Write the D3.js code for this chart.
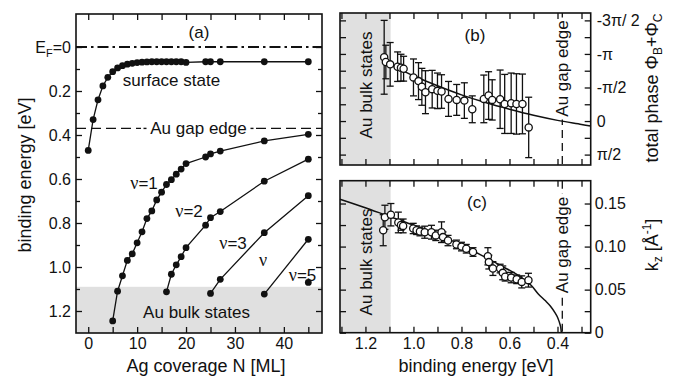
<!DOCTYPE html>
<html>
<head>
<meta charset="utf-8">
<script src="https://cdn.jsdelivr.net/npm/d3@7"></script>
<style>
  body { margin: 0; background: #fff; }
  svg { display: block; font-family: "Liberation Sans", Arial, Helvetica, sans-serif; }
</style>
</head>
<body>
<svg id="chart" width="679" height="377"></svg>
<script>
// ---- panel (a): binding energy vs Ag coverage ----
const surfN = [0, 1, 2, 3, 4, 5, 6, 7, 8, 9, 10, 11, 12, 13, 14, 15, 16, 17, 18, 19, 20, 24, 25, 27, 36, 45];
const surfE = [0.47, 0.33, 0.24, 0.177, 0.138, 0.112, 0.095, 0.085, 0.078, 0.074, 0.071, 0.069, 0.068, 0.067, 0.067,
  0.067, 0.067, 0.067, 0.067, 0.067, 0.07, 0.067, 0.067, 0.067, 0.067, 0.067];
const nu1N = [5, 6, 7, 8, 9, 10, 11, 12, 13, 14, 15, 16, 17, 18, 19, 20, 24, 25, 27, 36, 45];
const nu1E = [1.245, 1.11, 1.04, 0.97, 0.94, 0.89, 0.84, 0.78, 0.745, 0.695, 0.66, 0.625, 0.603, 0.578, 0.555, 0.53,
  0.50, 0.486, 0.473, 0.427, 0.397];
const nu2N = [16, 17, 18, 19, 20, 24, 25, 27, 36, 45];
const nu2E = [1.113, 1.033, 0.99, 0.953, 0.912, 0.81, 0.776, 0.748, 0.61, 0.51];
const nu3N = [25, 27, 36, 45];
const nu3E = [1.12, 1.056, 0.844, 0.676];
const nu4N = [36, 45];
const nu4E = [1.123, 0.874];
const nu5N = [45];
const nu5E = [1.07];

const bulkEdge = 1.09;     // Au bulk states start [eV]
const gapEdgeA = 0.37;     // Au gap edge in (a)
const gapEdgeR = 0.38;     // Au gap edge in (b),(c)

// ---- panel (b): total phase (units of pi/2) ----
const phaseE = [1.122, 1.115, 1.097, 1.066, 1.052, 1.041, 1.000, 0.979, 0.965, 0.950, 0.922, 0.900, 0.883, 0.854,
  0.820, 0.788, 0.755, 0.707, 0.687, 0.672, 0.639, 0.620, 0.593, 0.571, 0.546, 0.520];
const phaseVal = [-1.90, -1.76, -1.69, -1.62, -1.59, -1.56, -1.30, -1.19, -1.02, -0.86, -0.95, -0.90, -0.88, -0.66,
  -0.63, -0.61, -0.35, -0.66, -0.76, -0.63, -0.65, -0.51, -0.53, -0.51, -0.51, 0.19];
const phaseErr = [1.1, 0.5, 0.65, 0.44, 0.4, 0.37, 0.55, 0.55, 0.55, 0.64, 0.56, 0.53, 0.5, 0.52, 0.46, 0.53, 0.40,
  0.71, 0.71, 0.6, 0.87, 0.88, 0.9, 0.9, 0.89, 0.9];
const fitPhaseE = [1.12, 1.05, 1.0, 0.9, 0.8, 0.7, 0.6, 0.5, 0.4, 0.3, 0.262];
const fitPhaseVal = [-1.75, -1.52, -1.35, -1.05, -0.78, -0.55, -0.35, -0.17, -0.02, 0.10, 0.15];
const phaseTicks = [-3, -2, -1, 0, 1];
const phaseLabels = ['-3\u03c0/ 2', '-\u03c0', '-\u03c0/2', '0', '\u03c0/2'];

// ---- panel (c): k_z ----
const kzE = [1.126, 1.119, 1.094, 1.063, 1.052, 1.043, 1.001, 0.987, 0.973, 0.953, 0.925, 0.907, 0.883, 0.877, 0.856,
  0.821, 0.800, 0.780, 0.752, 0.690, 0.686, 0.669, 0.639, 0.628, 0.618, 0.593, 0.570, 0.549, 0.521];
const kzVal = [0.119, 0.134, 0.137, 0.128, 0.125, 0.124, 0.121, 0.119, 0.1175, 0.1167, 0.1167, 0.113, 0.1167, 0.111,
  0.107, 0.1025, 0.100, 0.0975, 0.0937, 0.0887, 0.082, 0.0745, 0.0745, 0.0695, 0.065, 0.064, 0.062, 0.059, 0.061];
const kzErr = [0.018, 0.014, 0.013, 0.012, 0.006, 0.008, 0.006, 0.005, 0.005, 0.007, 0.008, 0.006, 0.012, 0.006, 0.006,
  0.005, 0.005, 0.005, 0.005, 0.010, 0.008, 0.008, 0.005, 0.008, 0.005, 0.006, 0.005, 0.007, 0.008];
const fitKzE = [1.306, 1.21, 1.11, 1.01, 0.91, 0.81, 0.71, 0.61, 0.56, 0.51, 0.48, 0.45, 0.43, 0.41, 0.40, 0.392, 0.387, 0.384];
const fitKzVal = [0.155, 0.146, 0.136, 0.126, 0.115, 0.103, 0.089, 0.074, 0.066, 0.055, 0.045, 0.037, 0.031, 0.023,
  0.018, 0.012, 0.007, 0];

const svg = d3.select('#chart');
const ink = '#111';
const bandFill = '#e0e0e0';

const pa = { left: 76, right: 322, top: 14, bottom: 333 };
const pb = { left: 340, right: 590.7, top: 13, bottom: 165 };
const pc = { left: 340, right: 590.7, top: 180.7, bottom: 332.7 };

const xa = d3.scaleLinear().domain([-2.5, 47.8]).range([pa.left, pa.right]);
const ya = d3.scaleLinear().domain([-0.15, 1.3]).range([pa.top, pa.bottom]);
const xr = d3.scaleLinear().domain([1.306, 0.2617]).range([pb.left, pb.right]);
const yb = d3.scaleLinear().domain([-3.22, 1.31]).range([pb.top, pb.bottom]);
const yc = d3.scaleLinear().domain([0, 0.1765]).range([pc.bottom, pc.top]);

function zip(a, b) { return a.map((v, i) => [v, b[i]]); }

function ticks(pos, axis, values, size, fmt, pad) {
  const g = svg.append('g').attr('transform', pos);
  g.call(axis.tickValues(values).tickSize(-size).tickPadding(pad || 4).tickFormat(fmt || (() => '')));
  g.select('.domain').remove();
  g.attr('font-family', null).attr('font-size', 16);
  g.selectAll('line').attr('stroke', ink).attr('stroke-width', 1.3);
  g.selectAll('text').attr('fill', ink);
  return g;
}

function frame(p) {
  svg.append('rect').attr('x', p.left).attr('y', p.top)
    .attr('width', p.right - p.left).attr('height', p.bottom - p.top)
    .attr('fill', 'none').attr('stroke', ink).attr('stroke-width', 1.6);
}

function text(x, y, s, size, anchor) {
  return svg.append('text').attr('x', x).attr('y', y).attr('font-size', size || 17)
    .attr('text-anchor', anchor || 'middle').attr('fill', ink).text(s);
}

// nu labels: greek letter in a serif face, as in the original
function nuText(x, y, rest) {
  const t = svg.append('text').attr('x', x).attr('y', y).attr('font-size', 17)
    .attr('text-anchor', 'middle').attr('fill', ink);
  t.append('tspan').attr('font-family', '"Liberation Serif", "DejaVu Serif", serif').attr('font-size', 18).text('\u03bd');
  if (rest) t.append('tspan').text(rest);
  return t;
}

function vtext(x, y, s, size) {
  return svg.append('text').attr('transform', `translate(${x},${y}) rotate(-90)`)
    .attr('text-anchor', 'middle').attr('dy', '0.35em').attr('font-size', size || 17).attr('fill', ink).text(s);
}

// ===== panel (a) =====
svg.append('rect').attr('x', pa.left).attr('y', ya(bulkEdge))
  .attr('width', pa.right - pa.left).attr('height', pa.bottom - ya(bulkEdge)).attr('fill', bandFill);

svg.append('line').attr('x1', pa.left).attr('x2', pa.right).attr('y1', ya(0)).attr('y2', ya(0))
  .attr('stroke', ink).attr('stroke-width', 2).attr('stroke-dasharray', '11,4,2.5,4');
svg.append('line').attr('x1', pa.left).attr('x2', pa.right).attr('y1', ya(gapEdgeA)).attr('y2', ya(gapEdgeA))
  .attr('stroke', ink).attr('stroke-width', 1.3).attr('stroke-dasharray', '10,5');
svg.append('rect').attr('x', 141).attr('y', ya(gapEdgeA) - 9).attr('width', 115).attr('height', 18).attr('fill', '#fff');
[145, 252].forEach(x => svg.append('rect').attr('x', x - 1.5).attr('y', ya(gapEdgeA) - 0.7)
  .attr('width', 3).attr('height', 1.4).attr('fill', ink));
text(198.5, ya(gapEdgeA) + 6, 'Au gap edge');

const lineA = d3.line().x(d => xa(d[0])).y(d => ya(d[1]));
[[surfN, surfE], [nu1N, nu1E], [nu2N, nu2E], [nu3N, nu3E], [nu4N, nu4E], [nu5N, nu5E]].forEach(([n, e]) => {
  const pts = zip(n, e);
  svg.append('path').datum(pts).attr('d', lineA).attr('fill', 'none').attr('stroke', ink).attr('stroke-width', 1.3);
  svg.append('g').selectAll('circle').data(pts).enter().append('circle')
    .attr('cx', d => xa(d[0])).attr('cy', d => ya(d[1])).attr('r', 3.4).attr('fill', ink);
});

text(171.5, 86, 'surface state');
text(196.5, 317.5, 'Au bulk states');
nuText(144, 189, '=1');
nuText(189, 216.5, '=2');
nuText(233, 249, '=3');
nuText(263, 266);
nuText(302.5, 281, '=5');
text(199, 38, '(a)');

frame(pa);
const yaL = ticks(`translate(${pa.left},0)`, d3.axisLeft(ya), [0, 0.2, 0.4, 0.6, 0.8, 1.0, 1.2], 6, d3.format('.1f'), 5);
ticks(`translate(${pa.left},0)`, d3.axisLeft(ya), [0.1, 0.3, 0.5, 0.7, 0.9, 1.1], 4);
ticks(`translate(${pa.right},0)`, d3.axisRight(ya), [0, 0.2, 0.4, 0.6, 0.8, 1.0, 1.2], 6);
ticks(`translate(${pa.right},0)`, d3.axisRight(ya), [0.1, 0.3, 0.5, 0.7, 0.9, 1.1], 4);
ticks(`translate(0,${pa.bottom})`, d3.axisBottom(xa), [0, 10, 20, 30, 40], 6, d3.format('d'), 5);
ticks(`translate(0,${pa.bottom})`, d3.axisBottom(xa), [5, 15, 25, 35, 45], 6);
ticks(`translate(0,${pa.top})`, d3.axisTop(xa), [0, 10, 20, 30, 40], 6);
ticks(`translate(0,${pa.top})`, d3.axisTop(xa), [5, 15, 25, 35, 45], 6);

// E_F = 0 label
const ef = yaL.selectAll('.tick text').filter(d => d === 0).text('');
ef.append('tspan').text('E');
ef.append('tspan').attr('font-size', 11).attr('dy', 4).text('F');
ef.append('tspan').attr('dy', -4).text('=0');

vtext(25, 175, 'binding energy [eV]', 18);
text(206, 372, 'Ag coverage N [ML]', 18);

// ===== panels (b) and (c) =====
function bulkBand(p) {
  svg.append('rect').attr('x', p.left).attr('y', p.top)
    .attr('width', xr(bulkEdge + 0.005) - p.left).attr('height', p.bottom - p.top).attr('fill', bandFill);
}
function gapLine(p, cy) {
  svg.append('line').attr('x1', xr(gapEdgeR)).attr('x2', xr(gapEdgeR)).attr('y1', p.top).attr('y2', p.bottom)
    .attr('stroke', ink).attr('stroke-width', 1.3).attr('stroke-dasharray', '8,5');
  svg.append('rect').attr('x', xr(gapEdgeR) - 8).attr('y', cy - 51).attr('width', 16).attr('height', 102).attr('fill', '#fff');
  vtext(xr(gapEdgeR), cy, 'Au gap edge');
}
function errData(xs, ys, es, y) {
  const g = svg.append('g').attr('stroke', ink).attr('stroke-width', 1.3);
  xs.forEach((x, i) => {
    const cx = xr(x), y0 = y(ys[i] - es[i]), y1 = y(ys[i] + es[i]);
    g.append('line').attr('x1', cx).attr('x2', cx).attr('y1', y0).attr('y2', y1);
    g.append('line').attr('x1', cx - 3.5).attr('x2', cx + 3.5).attr('y1', y0).attr('y2', y0);
    g.append('line').attr('x1', cx - 3.5).attr('x2', cx + 3.5).attr('y1', y1).attr('y2', y1);
  });
}
function openDots(xs, ys, y) {
  svg.append('g').selectAll('circle').data(zip(xs, ys)).enter().append('circle')
    .attr('cx', d => xr(d[0])).attr('cy', d => y(d[1])).attr('r', 3.6)
    .attr('fill', '#fff').attr('stroke', ink).attr('stroke-width', 1.3);
}
function fit(xs, ys, y) {
  svg.append('path').datum(zip(xs, ys))
    .attr('d', d3.line().x(d => xr(d[0])).y(d => y(d[1])).curve(d3.curveCatmullRom))
    .attr('fill', 'none').attr('stroke', ink).attr('stroke-width', 1.5);
}
function xTicks(p, labels) {
  ticks(`translate(0,${p.bottom})`, d3.axisBottom(xr), [1.2, 1.0, 0.8, 0.6, 0.4], 6, labels ? d3.format('.1f') : null, 5);
  ticks(`translate(0,${p.bottom})`, d3.axisBottom(xr), [1.3, 1.1, 0.9, 0.7, 0.5, 0.3], 6);
  ticks(`translate(0,${p.top})`, d3.axisTop(xr), [1.2, 1.0, 0.8, 0.6, 0.4], 6);
  ticks(`translate(0,${p.top})`, d3.axisTop(xr), [1.3, 1.1, 0.9, 0.7, 0.5, 0.3], 6);
}

// (b)
bulkBand(pb);
gapLine(pb, 68.5);
fit(fitPhaseE, fitPhaseVal, yb);
errData(phaseE, phaseVal, phaseErr, yb);
openDots(phaseE, phaseVal, yb);
vtext(366.5, 85, 'Au bulk states');
text(475, 41, '(b)');
frame(pb);
xTicks(pb, false);
ticks(`translate(${pb.right},0)`, d3.axisRight(yb), phaseTicks, 6, (d, i) => phaseLabels[i], 6);
ticks(`translate(${pb.right},0)`, d3.axisRight(yb), [-2.5, -1.5, -0.5, 0.5], 6);
ticks(`translate(${pb.left},0)`, d3.axisLeft(yb), phaseTicks, 6);
ticks(`translate(${pb.left},0)`, d3.axisLeft(yb), [-2.5, -1.5, -0.5, 0.5], 6);

const tp = svg.append('text').attr('transform', 'translate(652,88) rotate(-90)')
  .attr('text-anchor', 'middle').attr('dy', '0.35em').attr('font-size', 18).attr('fill', ink);
tp.append('tspan').text('total phase \u03a6');
tp.append('tspan').attr('font-size', 12).attr('dy', 4).text('B');
tp.append('tspan').attr('dy', -4).text('+\u03a6');
tp.append('tspan').attr('font-size', 12).attr('dy', 4).text('C');

// (c)
bulkBand(pc);
gapLine(pc, 245);
fit(fitKzE, fitKzVal, yc);
errData(kzE, kzVal, kzErr, yc);
openDots(kzE, kzVal, yc);
vtext(366.5, 262, 'Au bulk states');
text(477, 208, '(c)');
frame(pc);
xTicks(pc, true);
ticks(`translate(${pc.right},0)`, d3.axisRight(yc), [0, 0.05, 0.10, 0.15], 6, d => d === 0 ? '0' : d3.format('.2f')(d), 4);
ticks(`translate(${pc.right},0)`, d3.axisRight(yc), [0.025, 0.075, 0.125], 6);
ticks(`translate(${pc.left},0)`, d3.axisLeft(yc), [0, 0.05, 0.10, 0.15], 6);
ticks(`translate(${pc.left},0)`, d3.axisLeft(yc), [0.025, 0.075, 0.125], 6);

const kz = svg.append('text').attr('transform', 'translate(652,245) rotate(-90)')
  .attr('text-anchor', 'middle').attr('dy', '0.35em').attr('font-size', 18).attr('fill', ink);
kz.append('tspan').text('k');
kz.append('tspan').attr('font-size', 12).attr('dy', 4).text('z');
kz.append('tspan').attr('dy', -4).text(' [\u00c5');
kz.append('tspan').attr('font-size', 12).attr('dy', -7).text('-1');
kz.append('tspan').attr('dy', 7).text(']');

text(476, 372, 'binding energy [eV]', 18);
</script>
</body>
</html>
